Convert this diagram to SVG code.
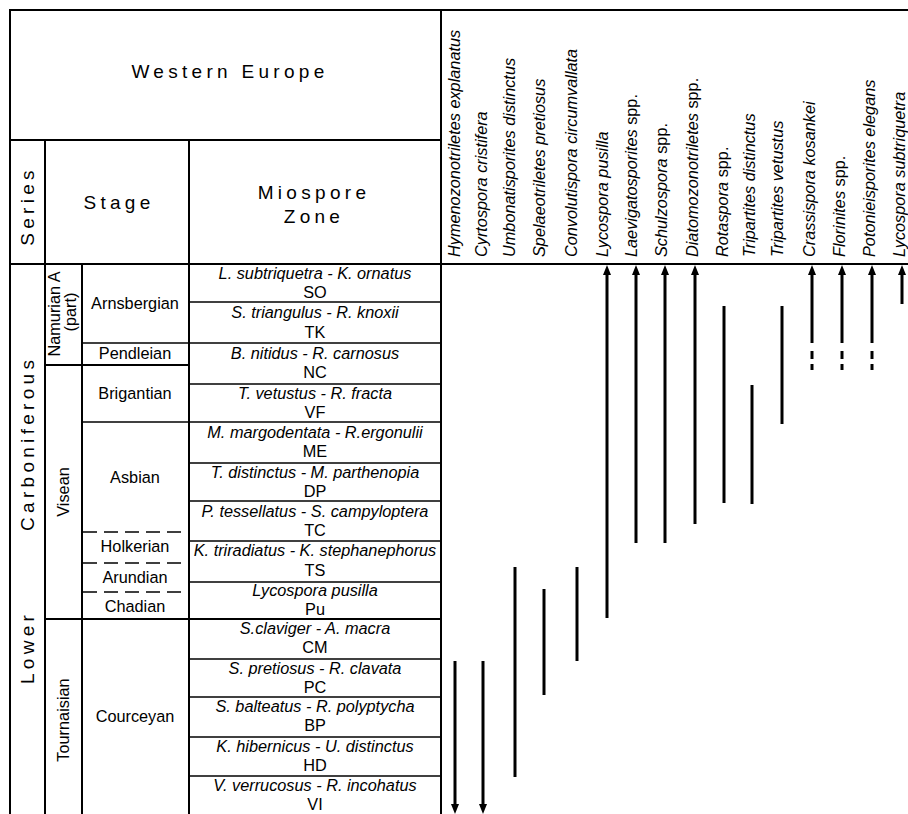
<svg xmlns="http://www.w3.org/2000/svg" width="908" height="814" viewBox="0 0 908 814">
<style>
.frame{stroke:#000;stroke-width:2;fill:none}
.thin{stroke:#000;stroke-width:1.5;fill:none}
.dash{stroke:#000;stroke-width:1.5;fill:none;stroke-dasharray:14 7}
.hdr{font-family:"Liberation Sans",Arial,sans-serif;font-size:19px;letter-spacing:4.3px;fill:#000}
.txt{font-family:"Liberation Sans",Arial,sans-serif;font-size:16.3px;fill:#000}
.it{font-style:italic}
.up{font-style:normal}
.rng{stroke:#000;stroke-width:3;fill:none}
</style>
<defs>
<marker id="ah" viewBox="0 0 10 8" refX="0" refY="4" markerWidth="10" markerHeight="8" orient="auto" markerUnits="userSpaceOnUse">
<path d="M0,0 L10,4 L0,8 z" fill="#000"/>
</marker>
</defs>
<rect width="908" height="814" fill="#fff"/>

<g id="grid">
<line class="frame" x1="10" y1="10" x2="908" y2="10"/>
<line class="frame" x1="10" y1="9" x2="10" y2="814"/>
<line class="frame" x1="441" y1="10" x2="441" y2="814"/>
<line class="frame" x1="10" y1="140" x2="441" y2="140"/>
<line class="frame" x1="10" y1="264" x2="908" y2="264"/>
<line class="frame" x1="45" y1="140" x2="45" y2="814"/>
<line class="frame" x1="189" y1="140" x2="189" y2="814"/>
<line class="frame" x1="82" y1="264" x2="82" y2="814"/>
<line class="frame" x1="45" y1="365" x2="189" y2="365"/>
<line class="frame" x1="45" y1="619" x2="441" y2="619"/>
<line class="thin" x1="82" y1="343" x2="441" y2="343"/>
<line class="thin" x1="82" y1="422" x2="441" y2="422"/>
<line class="thin" x1="189" y1="302" x2="441" y2="302"/>
<line class="thin" x1="189" y1="384" x2="441" y2="384"/>
<line class="thin" x1="189" y1="463" x2="441" y2="463"/>
<line class="thin" x1="189" y1="501" x2="441" y2="501"/>
<line class="thin" x1="189" y1="541" x2="441" y2="541"/>
<line class="thin" x1="189" y1="582" x2="441" y2="582"/>
<line class="thin" x1="189" y1="659" x2="441" y2="659"/>
<line class="thin" x1="189" y1="697" x2="441" y2="697"/>
<line class="thin" x1="189" y1="737" x2="441" y2="737"/>
<line class="thin" x1="189" y1="776" x2="441" y2="776"/>
<line class="dash" x1="83" y1="532" x2="189" y2="532"/>
<line class="dash" x1="83" y1="563" x2="189" y2="563"/>
<line class="dash" x1="83" y1="592" x2="189" y2="592"/>
</g>

<g id="header">
<text class="hdr" x="230" y="78" text-anchor="middle">Western Europe</text>
<text class="hdr" transform="rotate(-90 34 206)" x="34" y="206" text-anchor="middle">Series</text>
<text class="hdr" x="119" y="209" text-anchor="middle">Stage</text>
<text class="hdr" x="314" y="199" text-anchor="middle">Miospore</text>
<text class="hdr" x="314" y="223" text-anchor="middle">Zone</text>
</g>

<g id="series">
<text class="hdr" transform="rotate(-90 34 684)" x="34" y="684">Lower</text>
<text class="hdr" transform="rotate(-90 34 531)" x="34" y="531">Carboniferous</text>
</g>

<g id="subseries">
<text class="txt" transform="rotate(-90 60 314)" x="60" y="314" text-anchor="middle">Namurian A</text>
<text class="txt" transform="rotate(-90 76 312)" x="76" y="312" text-anchor="middle">(part)</text>
<text class="txt" transform="rotate(-90 69 492)" x="69" y="492" text-anchor="middle">Visean</text>
<text class="txt" transform="rotate(-90 69 720)" x="69" y="720" text-anchor="middle">Tournaisian</text>
</g>

<g id="stages">
<text class="txt" x="135" y="309" text-anchor="middle">Arnsbergian</text>
<text class="txt" x="135" y="359" text-anchor="middle">Pendleian</text>
<text class="txt" x="135" y="399" text-anchor="middle">Brigantian</text>
<text class="txt" x="135" y="483" text-anchor="middle">Asbian</text>
<text class="txt" x="135" y="552" text-anchor="middle">Holkerian</text>
<text class="txt" x="135" y="583" text-anchor="middle">Arundian</text>
<text class="txt" x="135" y="612" text-anchor="middle">Chadian</text>
<text class="txt" x="135" y="722" text-anchor="middle">Courceyan</text>
</g>

<g id="zones" text-anchor="middle">
<g id="zone-SO"><text class="txt it" x="315" y="279">L. subtriquetra - K. ornatus</text><text class="txt" x="315" y="298">SO</text></g>
<g id="zone-TK"><text class="txt it" x="315" y="318">S. triangulus - R. knoxii</text><text class="txt" x="315" y="338">TK</text></g>
<g id="zone-NC"><text class="txt it" x="315" y="359">B. nitidus - R. carnosus</text><text class="txt" x="315" y="378">NC</text></g>
<g id="zone-VF"><text class="txt it" x="315" y="399">T. vetustus - R. fracta</text><text class="txt" x="315" y="418">VF</text></g>
<g id="zone-ME"><text class="txt it" x="315" y="438">M. margodentata - R.ergonulii</text><text class="txt" x="315" y="457">ME</text></g>
<g id="zone-DP"><text class="txt it" x="315" y="478">T. distinctus - M. parthenopia</text><text class="txt" x="315" y="497">DP</text></g>
<g id="zone-TC"><text class="txt it" x="315" y="517">P. tessellatus - S. campyloptera</text><text class="txt" x="315" y="536">TC</text></g>
<g id="zone-TS"><text class="txt it" x="315" y="556">K. triradiatus - K. stephanephorus</text><text class="txt" x="315" y="576">TS</text></g>
<g id="zone-Pu"><text class="txt it" x="315" y="596">Lycospora pusilla</text><text class="txt" x="315" y="615">Pu</text></g>
<g id="zone-CM"><text class="txt it" x="315" y="634">S.claviger - A. macra</text><text class="txt" x="315" y="653">CM</text></g>
<g id="zone-PC"><text class="txt it" x="315" y="674">S. pretiosus - R. clavata</text><text class="txt" x="315" y="693">PC</text></g>
<g id="zone-BP"><text class="txt it" x="315" y="712">S. balteatus - R. polyptycha</text><text class="txt" x="315" y="731">BP</text></g>
<g id="zone-HD"><text class="txt it" x="315" y="752">K. hibernicus - U. distinctus</text><text class="txt" x="315" y="771">HD</text></g>
<g id="zone-VI"><text class="txt it" x="315" y="791">V. verrucosus - R. incohatus</text><text class="txt" x="315" y="810">VI</text></g>
</g>

<g id="species" class="txt it">
<text id="sp1" transform="rotate(-90 459.5 257)" x="459.5" y="257">Hymenozonotriletes explanatus</text>
<text id="sp2" transform="rotate(-90 486.5 257)" x="486.5" y="257">Cyrtospora cristifera</text>
<text id="sp3" transform="rotate(-90 515 257)" x="515" y="257">Umbonatisporites distinctus</text>
<text id="sp4" transform="rotate(-90 544.5 257)" x="544.5" y="257">Spelaeotriletes pretiosus</text>
<text id="sp5" transform="rotate(-90 576.5 257)" x="576.5" y="257">Convolutispora circumvallata</text>
<text id="sp6" transform="rotate(-90 607.5 257)" x="607.5" y="257">Lycospora pusilla</text>
<text id="sp7" transform="rotate(-90 636.5 257)" x="636.5" y="257">Laevigatosporites<tspan class="up"> spp.</tspan></text>
<text id="sp8" transform="rotate(-90 667 257)" x="667" y="257">Schulzospora<tspan class="up"> spp.</tspan></text>
<text id="sp9" transform="rotate(-90 697.5 257)" x="697.5" y="257">Diatomozonotriletes<tspan class="up"> spp.</tspan></text>
<text id="sp10" transform="rotate(-90 727.5 257)" x="727.5" y="257">Rotaspora<tspan class="up"> spp.</tspan></text>
<text id="sp11" transform="rotate(-90 755 257)" x="755" y="257">Tripartites distinctus</text>
<text id="sp12" transform="rotate(-90 783 257)" x="783" y="257">Tripartites vetustus</text>
<text id="sp13" transform="rotate(-90 814.5 257)" x="814.5" y="257">Crassispora kosankei</text>
<text id="sp14" transform="rotate(-90 844.5 257)" x="844.5" y="257">Florinites<tspan class="up"> spp.</tspan></text>
<text id="sp15" transform="rotate(-90 874.5 257)" x="874.5" y="257">Potonieisporites elegans</text>
<text id="sp16" transform="rotate(-90 904.5 257)" x="904.5" y="257">Lycospora subtriquetra</text>
</g>

<g id="ranges">
<line class="rng" x1="455" y1="661" x2="455" y2="804" marker-end="url(#ah)"/>
<line class="rng" x1="483" y1="661" x2="483" y2="804" marker-end="url(#ah)"/>
<line class="rng" x1="515" y1="567" x2="515" y2="777"/>
<line class="rng" x1="544" y1="589" x2="544" y2="695"/>
<line class="rng" x1="577" y1="567" x2="577" y2="661"/>
<line class="rng" x1="607" y1="618" x2="607" y2="275" marker-end="url(#ah)"/>
<line class="rng" x1="636" y1="543" x2="636" y2="275" marker-end="url(#ah)"/>
<line class="rng" x1="665" y1="543" x2="665" y2="275" marker-end="url(#ah)"/>
<line class="rng" x1="695" y1="524" x2="695" y2="275" marker-end="url(#ah)"/>
<line class="rng" x1="724" y1="306" x2="724" y2="503"/>
<line class="rng" x1="752" y1="385" x2="752" y2="504"/>
<line class="rng" x1="782" y1="306" x2="782" y2="424"/>
<line class="rng" x1="812" y1="343" x2="812" y2="275" marker-end="url(#ah)"/>
<line class="rng" x1="812" y1="351" x2="812" y2="359"/>
<line class="rng" x1="812" y1="364" x2="812" y2="370"/>
<line class="rng" x1="842" y1="343" x2="842" y2="275" marker-end="url(#ah)"/>
<line class="rng" x1="842" y1="351" x2="842" y2="359"/>
<line class="rng" x1="842" y1="364" x2="842" y2="370"/>
<line class="rng" x1="872" y1="343" x2="872" y2="275" marker-end="url(#ah)"/>
<line class="rng" x1="872" y1="351" x2="872" y2="359"/>
<line class="rng" x1="872" y1="364" x2="872" y2="370"/>
<line class="rng" x1="902" y1="304" x2="902" y2="275" marker-end="url(#ah)"/>
</g>
</svg>
